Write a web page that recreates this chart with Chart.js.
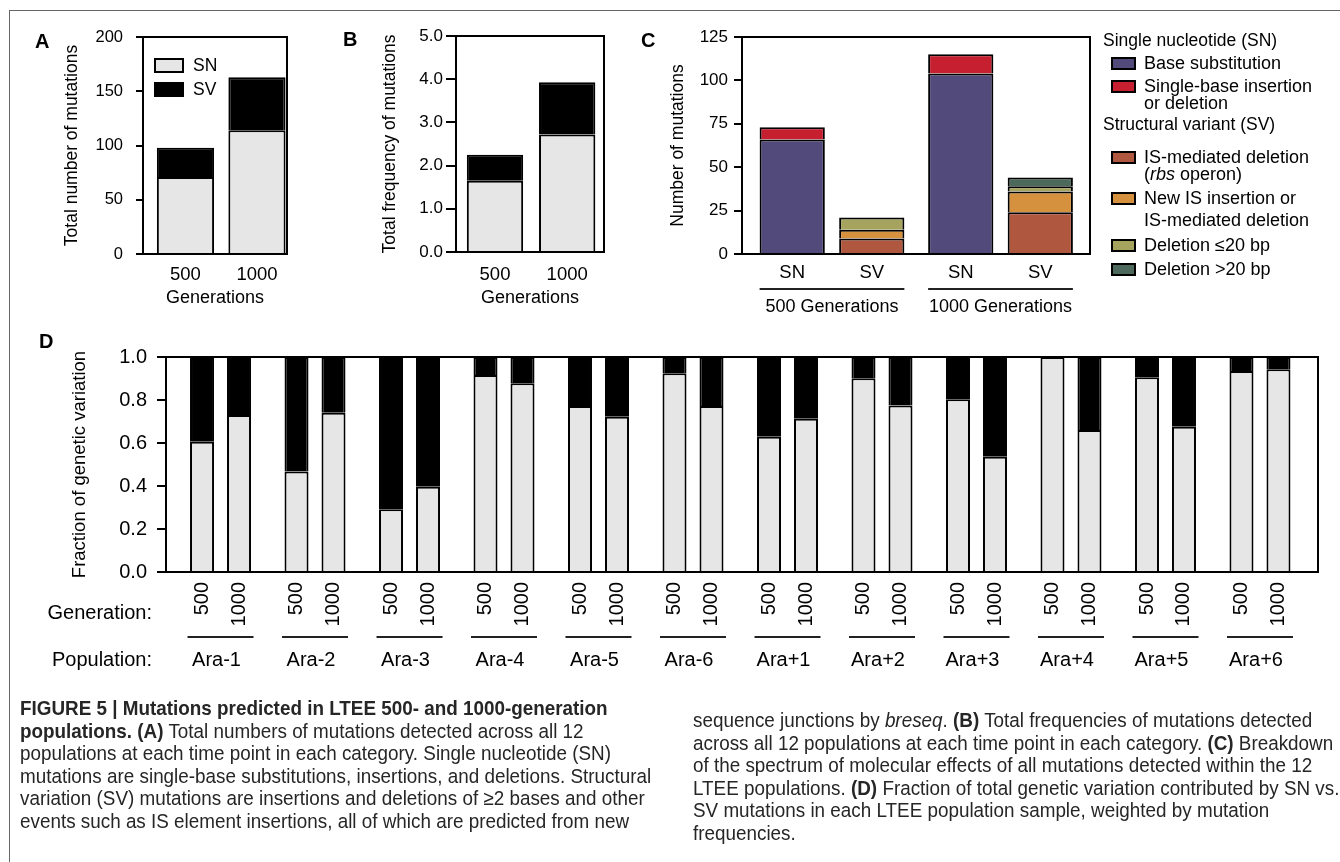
<!DOCTYPE html>
<html>
<head>
<meta charset="utf-8">
<title>Figure 5</title>
<script src="https://cdn.jsdelivr.net/npm/chart.js@4.4.1/dist/chart.umd.min.js"></script>
<style>
  html, body { margin: 0; padding: 0; background: #fff; }
  #page { position: relative; width: 1340px; height: 862px; overflow: hidden;
          font-family: 'Liberation Sans', Arial, sans-serif; color: #000; }
  .layer { position: absolute; left: 0; top: 0; width: 1340px; height: 862px; }
  .abs { position: absolute; white-space: nowrap; }
  .letter { font-weight: bold; font-size: 20px; line-height: 20px; }
  .sw { position: absolute; box-sizing: border-box; border: 2px solid #000; }
  .leg { font-size: 17.5px; line-height: 20px; }
  /* caption face in the original is condensed, so squeeze it a bit */
  .cap { position: absolute; white-space: nowrap; font-family: 'Liberation Sans Narrow', 'Liberation Sans', sans-serif;
         font-size: 20.5px; line-height: 22.5px; color: #262626; transform: scaleX(0.92); transform-origin: 0 0; }
  #frameTop { position: absolute; left: 9px; top: 10px; width: 1331px; height: 0; border-top: 1.5px solid #666; }
  #frameLeft { position: absolute; left: 9px; top: 10px; width: 0; height: 852px; border-left: 1.5px solid #666; }
</style>
</head>
<body>
<div id="page">
  <div id="frameTop"></div>
  <div id="frameLeft"></div>
  <div class="layer"><canvas id="chartA"></canvas></div>
  <div class="layer"><canvas id="chartB"></canvas></div>
  <div class="layer"><canvas id="chartC"></canvas></div>
  <div class="layer"><canvas id="chartD"></canvas></div>
  <div id="overlay"></div>

  <div class="cap" style="left:20px; top:697px;">
    <b>FIGURE 5 | Mutations predicted in LTEE 500- and 1000-generation</b><br>
    <b>populations. (A)</b> Total numbers of mutations detected across all 12<br>
    populations at each time point in each category. Single nucleotide (SN)<br>
    mutations are single-base substitutions, insertions, and deletions. Structural<br>
    variation (SV) mutations are insertions and deletions of ≥2 bases and other<br>
    events such as IS element insertions, all of which are predicted from new
  </div>
  <div class="cap" style="left:693px; top:709px;">
    sequence junctions by <i>breseq</i>. <b>(B)</b> Total frequencies of mutations detected<br>
    across all 12 populations at each time point in each category. <b>(C)</b> Breakdown<br>
    of the spectrum of molecular effects of all mutations detected within the 12<br>
    LTEE populations. <b>(D)</b> Fraction of total genetic variation contributed by SN vs.<br>
    SV mutations in each LTEE population sample, weighted by mutation<br>
    frequencies.
  </div>
</div>

<script>
// ---- data ----
const generations = ['500', '1000'];

// A: total number of mutations
const totalSN = [71, 114];
const totalSV = [27, 49];

// B: total frequency of mutations
const freqSN = [1.65, 2.72];
const freqSV = [0.60, 1.21];

// C: breakdown by molecular effect
const groupLabels = ['500 Generations', '1000 Generations'];
const classLabels = ['SN', 'SV'];
const baseSub = [66, 104];
const singleIndel = [7, 11];
const isRbs = [9, 24];
const newIS = [5, 12];
const delSmall = [7, 3];
const delLarge = [0, 5];
const mutationTypes = [
  'Base substitution',
  'Single-base insertion|or deletion',
  'IS-mediated deletion|(<i>rbs</i> operon)',
  'New IS insertion or|IS-mediated deletion',
  'Deletion ≤20 bp',
  'Deletion >20 bp'
];

// D: fraction of genetic variation per population
const populations = ['Ara-1', 'Ara-2', 'Ara-3', 'Ara-4', 'Ara-5', 'Ara-6',
                     'Ara+1', 'Ara+2', 'Ara+3', 'Ara+4', 'Ara+5', 'Ara+6'];
const fracSN500  = [0.606, 0.467, 0.292, 0.916, 0.772, 0.924, 0.629, 0.901, 0.803, 1.000, 0.906, 0.935];
const fracSV500  = [0.394, 0.533, 0.708, 0.084, 0.228, 0.076, 0.371, 0.099, 0.197, 0.000, 0.094, 0.065];
const fracSN1000 = [0.730, 0.741, 0.397, 0.878, 0.722, 0.772, 0.713, 0.775, 0.536, 0.660, 0.676, 0.943];
const fracSV1000 = [0.270, 0.259, 0.603, 0.122, 0.278, 0.228, 0.287, 0.225, 0.464, 0.340, 0.324, 0.057];

// ---- styles ----
const W = 1340, H = 862;
const FONT = "'Liberation Sans', Arial, sans-serif";
const snGray = '#e6e6e6';
const typeColors = ['#514a7a', '#c61f2f', '#b0583f', '#d6913e', '#a6a35f', '#4c695c'];

Chart.defaults.font.family = FONT;
Chart.defaults.color = '#000';

const pts = arr => arr.map((v, i) => ({ x: i, y: v }));

// box round the plot area
const framePlugin = {
  id: 'frame',
  afterDatasetsDraw(chart) {
    const a = chart.chartArea, ctx = chart.ctx;
    ctx.save();
    ctx.strokeStyle = '#000';
    ctx.lineWidth = 2;
    ctx.strokeRect(a.left, a.top, a.right - a.left, a.bottom - a.top);
    ctx.restore();
  }
};

function sideAxis(g) {
  return {
    position: 'left',
    stacked: true,
    min: 0, max: g.max,
    ticks: { stepSize: g.step, padding: g.pad, font: { size: g.tickSize }, callback: g.fmt },
    grid: { drawOnChartArea: false, drawTicks: true, tickLength: g.tickLen, color: '#000', lineWidth: 2 },
    border: { display: true, color: '#000', width: 2 },
    title: { display: true, text: g.title, padding: 0, font: { size: g.titleSize } },
    afterFit(scale) { scale.width = g.width; }
  };
}

function baseAxis(g) {
  return {
    type: 'linear', position: 'bottom', offset: false,
    stacked: g.stacked,
    min: g.min, max: g.max,
    afterBuildTicks(scale) { scale.ticks = g.labels.map((_, i) => ({ value: i })); },
    ticks: { display: !!g.showLabels, padding: g.pad || 0, font: { size: 18.5 },
             maxRotation: 0, autoSkip: false, callback: v => g.labels[v] },
    grid: { display: false, drawTicks: false },
    border: { display: true, color: '#000', width: 2 },
    title: { display: !!g.title, text: g.title, padding: 0, font: { size: 18 } },
    afterFit(scale) { scale.height = g.height; }
  };
}

function baseOptions(pad, scales) {
  return {
    responsive: true,
    maintainAspectRatio: false,
    animation: false,
    events: [],
    layout: { padding: pad },
    plugins: { legend: { display: false }, tooltip: { enabled: false } },
    scales: scales
  };
}

// A. Total number of mutations
new Chart(document.getElementById('chartA'), {
  type: 'bar',
  data: {
    datasets: [
      { label: 'SN', data: pts(totalSN), backgroundColor: snGray },
      { label: 'SV', data: pts(totalSV), backgroundColor: '#000' }
    ]
  },
  options: Object.assign(baseOptions({ left: 61.5, top: 37, right: W - 287, bottom: H - 308.8 }, {
    x: baseAxis({ min: -0.594, max: 1.42, labels: generations, showLabels: true, pad: 10.2,
                  title: 'Generations', height: 54.8, stacked: true }),
    y: sideAxis({ max: 200, step: 50, pad: 13, tickLen: 7, tickSize: 16.5, width: 81.5,
                  title: 'Total number of mutations', titleSize: 17.5, fmt: v => v })
  }), { datasets: { bar: { borderColor: '#000', borderWidth: 2, categoryPercentage: 1, barPercentage: 0.8 } } }),
  plugins: [framePlugin]
});

// B. Total frequency of mutations
new Chart(document.getElementById('chartB'), {
  type: 'bar',
  data: {
    datasets: [
      { label: 'SN', data: pts(freqSN), backgroundColor: snGray },
      { label: 'SV', data: pts(freqSV), backgroundColor: '#000' }
    ]
  },
  options: Object.assign(baseOptions({ left: 379.5, top: 36, right: W - 604, bottom: H - 308.8 }, {
    x: baseAxis({ min: -0.54, max: 1.51, labels: generations, showLabels: true, pad: 12.2,
                  title: 'Generations', height: 56.8, stacked: true }),
    y: sideAxis({ max: 5, step: 1, pad: 3, tickLen: 10, tickSize: 17, width: 76.5,
                  title: 'Total frequency of mutations', titleSize: 17.5, fmt: v => v.toFixed(1) })
  }), { datasets: { bar: { borderColor: '#000', borderWidth: 2, categoryPercentage: 1, barPercentage: 0.78 } } }),
  plugins: [framePlugin]
});

// C. Spectrum of molecular effects
const cLabels = {
  id: 'cLabels',
  afterDraw(chart) {
    const ctx = chart.ctx, y0 = chart.chartArea.bottom;
    const snBars = chart.getDatasetMeta(0).data;
    const svBars = chart.getDatasetMeta(2).data;
    ctx.save();
    ctx.fillStyle = '#000';
    ctx.strokeStyle = '#222';
    ctx.lineWidth = 2;
    ctx.textAlign = 'center';
    ctx.textBaseline = 'middle';
    groupLabels.forEach((g, i) => {
      const a = snBars[i], b = svBars[i];
      ctx.font = '18.5px ' + FONT;
      ctx.fillText(classLabels[0], a.x, y0 + 19);
      ctx.fillText(classLabels[1], b.x, y0 + 19);
      const l = a.x - a.width / 2, r = b.x + b.width / 2;
      ctx.beginPath();
      ctx.moveTo(l, y0 + 35);
      ctx.lineTo(r, y0 + 35);
      ctx.stroke();
      ctx.font = '18px ' + FONT;
      ctx.fillText(g, (l + r) / 2, y0 + 53);
    });
    ctx.restore();
  }
};

const cSeries = [baseSub, singleIndel, isRbs, newIS, delSmall, delLarge];
new Chart(document.getElementById('chartC'), {
  type: 'bar',
  data: {
    datasets: cSeries.map((s, k) => ({
      label: mutationTypes[k].replace('|', ' ').replace(/<\/?i>/g, ''),
      data: pts(s),
      stack: k < 2 ? 'SN' : 'SV',
      backgroundColor: typeColors[k]
    }))
  },
  options: Object.assign(baseOptions({ left: 667.5, top: 37, right: W - 1090, bottom: H - 254 - 70 }, {
    x: baseAxis({ min: -0.534, max: 1.531, labels: groupLabels, height: 70 }),
    y: sideAxis({ max: 125, step: 25, pad: 6, tickLen: 8, tickSize: 17, width: 74.5,
                  title: 'Number of mutations', titleSize: 17.5, fmt: v => v })
  }), { datasets: { bar: { borderColor: '#000', borderWidth: 2, categoryPercentage: 0.944, barPercentage: 0.82 } } }),
  plugins: [framePlugin, cLabels]
});

// D. Fraction of genetic variation per population
const dLabels = {
  id: 'dLabels',
  afterDraw(chart) {
    const ctx = chart.ctx, a = chart.chartArea;
    const b500 = chart.getDatasetMeta(0).data;
    const b1000 = chart.getDatasetMeta(2).data;
    ctx.save();
    ctx.fillStyle = '#000';
    ctx.strokeStyle = '#222';
    ctx.lineWidth = 2;
    ctx.font = '20px ' + FONT;
    ctx.textBaseline = 'middle';
    populations.forEach((p, i) => {
      [b500[i], b1000[i]].forEach((bar, k) => {
        ctx.save();
        ctx.translate(bar.x, a.bottom + 10);
        ctx.rotate(-Math.PI / 2);
        ctx.textAlign = 'right';
        ctx.fillText(generations[k], 0, 0);
        ctx.restore();
      });
      const cx = (b500[i].x + b1000[i].x) / 2;
      ctx.beginPath();
      ctx.moveTo(cx - 33, a.bottom + 65);
      ctx.lineTo(cx + 33, a.bottom + 65);
      ctx.stroke();
      ctx.textAlign = 'center';
      ctx.fillText(p, cx - 4, a.bottom + 88);
    });
    ctx.textAlign = 'right';
    ctx.fillText('Generation:', a.left - 14, a.bottom + 41);
    ctx.fillText('Population:', a.left - 14, a.bottom + 88);
    ctx.restore();
  }
};

new Chart(document.getElementById('chartD'), {
  type: 'bar',
  data: {
    datasets: [
      { label: 'SN 500', data: pts(fracSN500), stack: 'g500', backgroundColor: snGray },
      { label: 'SV 500', data: pts(fracSV500), stack: 'g500', backgroundColor: '#000' },
      { label: 'SN 1000', data: pts(fracSN1000), stack: 'g1000', backgroundColor: snGray },
      { label: 'SV 1000', data: pts(fracSV1000), stack: 'g1000', backgroundColor: '#000' }
    ]
  },
  options: Object.assign(baseOptions({ left: 68.9, top: 357, right: W - 1318, bottom: H - 572 - 100 }, {
    x: baseAxis({ min: -0.577, max: 11.614, labels: populations, height: 100 }),
    y: sideAxis({ max: 1, step: 0.2, pad: 10, tickLen: 9, tickSize: 20, width: 97.1,
                  title: 'Fraction of genetic variation', titleSize: 18.5, fmt: v => v.toFixed(1) })
  }), { datasets: { bar: { borderColor: '#000', borderWidth: 2, categoryPercentage: 0.783, barPercentage: 0.649 } } }),
  plugins: [framePlugin, dLabels]
});

// ---- HTML bits: panel letters and legends ----
const overlay = document.getElementById('overlay');
function put(html, cls, left, top, extra) {
  const d = document.createElement('div');
  d.className = 'abs ' + cls;
  d.style.left = left + 'px';
  d.style.top = top + 'px';
  if (extra) d.style.cssText += extra;
  d.innerHTML = html;
  overlay.appendChild(d);
  return d;
}
function swatch(color, left, top, w, h) {
  const s = document.createElement('div');
  s.className = 'sw';
  s.style.cssText += `left:${left}px;top:${top}px;width:${w}px;height:${h}px;background:${color};`;
  overlay.appendChild(s);
}

[['A', 35, 31], ['B', 343, 29], ['C', 641, 30], ['D', 39, 331]].forEach(([t, x, y]) => put(t, 'letter', x, y));

// legend of A
['SN', 'SV'].forEach((t, k) => {
  swatch(k === 0 ? snGray : '#000', 154, 58 + k * 24, 30, 15);
  put(t, 'leg', 193, 55 + k * 24);
});

// legend of C
const legHeads = [['Single nucleotide (SN)', 40], ['Structural variant (SV)', 124]];
legHeads.forEach(([t, y]) => put(t, 'leg', 1103, y - 10));
const legRows = [63, 86, 157, 198, 245, 269];
const legSecond = [0, 17, 17, 22, 0, 0];
mutationTypes.forEach((t, k) => {
  const lines = t.split('|');
  swatch(typeColors[k], 1111, legRows[k] - 6, 25, 13);
  lines.forEach((ln, j) => put(ln, 'leg', 1144, legRows[k] - 10 + j * legSecond[k], 'font-size:18px;'));
});
</script>
</body>
</html>
